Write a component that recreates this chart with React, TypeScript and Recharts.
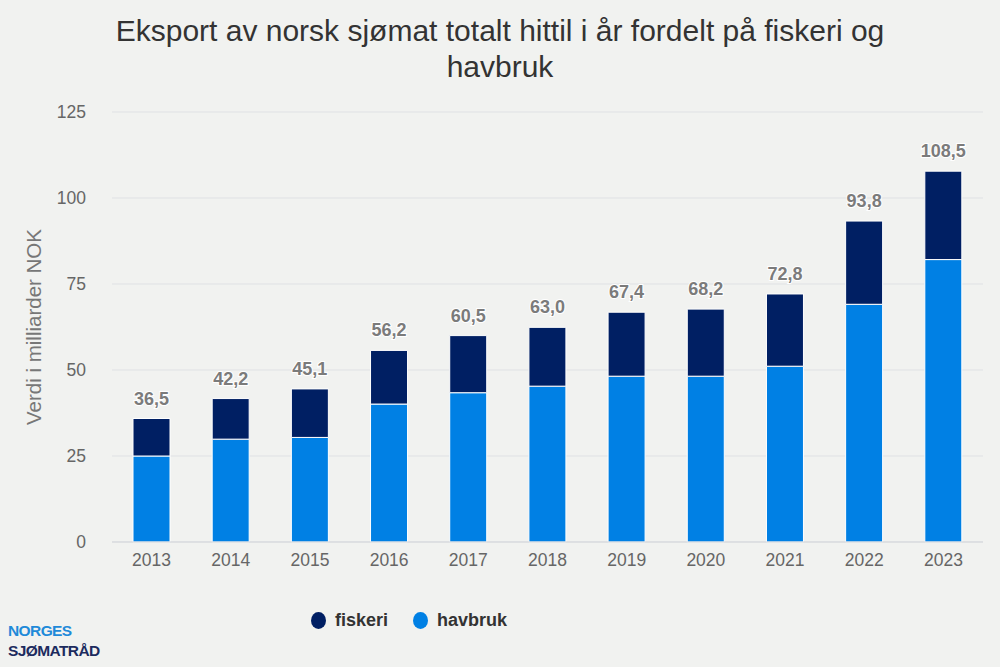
import { BarChart, Bar, XAxis, YAxis, CartesianGrid, Legend, LabelList } from "recharts";

const years = ["2013", "2014", "2015", "2016", "2017", "2018", "2019", "2020", "2021", "2022", "2023"];
const havbruk = [25.0, 29.9, 30.4, 40.1, 43.4, 45.3, 48.2, 48.2, 51.1, 69.1, 82.1];
const fiskeri = [10.9, 11.8, 14.1, 15.6, 16.6, 17.1, 18.6, 19.5, 21.0, 24.2, 25.7];
const totals = [36.5, 42.2, 45.1, 56.2, 60.5, 63.0, 67.4, 68.2, 72.8, 93.8, 108.5];
const yTicks = [0, 25, 50, 75, 100, 125];

const FONT = '"Liberation Sans", Arial, sans-serif';
const BG = "#f1f2f0";
const FISKERI = "#001f63";
const HAVBRUK = "#0080e4";

const data = years.map((year, i) => ({
  year,
  havbruk: havbruk[i],
  fiskeri: fiskeri[i],
  total: totals[i],
}));

function LegendContent({ payload }: any) {
  return (
    <div style={{ display: "flex", gap: 25, fontFamily: FONT }}>
      {(payload || []).map((p: any) => (
        <div key={p.value} style={{ display: "flex", alignItems: "center", gap: 9 }}>
          <span
            style={{
              display: "inline-block",
              width: 15,
              height: 17,
              borderRadius: "50%",
              background: p.color,
            }}
          />
          <span style={{ fontSize: 18, fontWeight: 700, color: "#333" }}>{p.value}</span>
        </div>
      ))}
    </div>
  );
}

export default function App() {
  return (
    <div
      style={{
        position: "absolute",
        left: 0,
        top: 0,
        width: 1000,
        height: 667,
        background: BG,
        fontFamily: FONT,
      }}
    >
      <div
        style={{
          position: "absolute",
          left: 0,
          top: 13,
          width: 1000,
          textAlign: "center",
          fontSize: 30,
          lineHeight: "36px",
          color: "#333",
        }}
      >
        Eksport av norsk sjømat totalt hittil i år fordelt på fiskeri og
        <br />
        havbruk
      </div>
      <BarChart
        width={1000}
        height={667}
        data={data}
        margin={{ top: 112, right: 17, left: 0, bottom: 95 }}
        barSize={37}
        style={{ position: "absolute", left: 0, top: 0 }}
      >
        <CartesianGrid vertical={false} stroke="#dfe1e4" />
        <XAxis
          dataKey="year"
          tickLine={false}
          tickSize={0}
          tickMargin={12}
          axisLine={{ stroke: "#d3d5da" }}
          tick={{ fill: "#666", fontSize: 17.5, fontFamily: FONT }}
        />
        <YAxis
          width={112}
          domain={[0, 125]}
          ticks={yTicks}
          axisLine={false}
          tickLine={false}
          tickSize={0}
          tickMargin={26}
          tick={{ fill: "#666", fontSize: 17.5, fontFamily: FONT }}
          label={{
            value: "Verdi i milliarder NOK",
            angle: -90,
            position: "insideLeft",
            offset: 34,
            style: { textAnchor: "middle", fill: "#777", fontSize: 20.5, fontFamily: FONT },
          }}
        />
        <Legend
          verticalAlign="middle"
          align="center"
          layout="horizontal"
          wrapperStyle={{ left: 311, top: 610, width: 260 }}
          content={<LegendContent />}
        />
        <Bar
          dataKey="havbruk"
          name="havbruk"
          stackId="a"
          fill={HAVBRUK}
          stroke="#fff"
          strokeWidth={1}
          isAnimationActive={false}
        />
        <Bar
          dataKey="fiskeri"
          name="fiskeri"
          stackId="a"
          fill={FISKERI}
          stroke="#fff"
          strokeWidth={1}
          isAnimationActive={false}
        >
          <LabelList
            dataKey="total"
            position="top"
            offset={14}
            formatter={(v: any) => Number(v).toFixed(1).replace(".", ",")}
            style={{
              fill: "#7b7b7b",
              fontSize: 18,
              fontWeight: 700,
              fontFamily: FONT,
              stroke: "#fff",
              strokeWidth: 2,
              paintOrder: "stroke",
            }}
          />
        </Bar>
      </BarChart>
      <div style={{ position: "absolute", left: 8, top: 621, fontSize: 15.5, fontWeight: 600, lineHeight: "20px", letterSpacing: -0.6 }}>
        <div style={{ color: "#1f8ad9" }}>NORGES</div>
        <div style={{ color: "#1c2b5e" }}>SJØMATRÅD</div>
      </div>
    </div>
  );
}
